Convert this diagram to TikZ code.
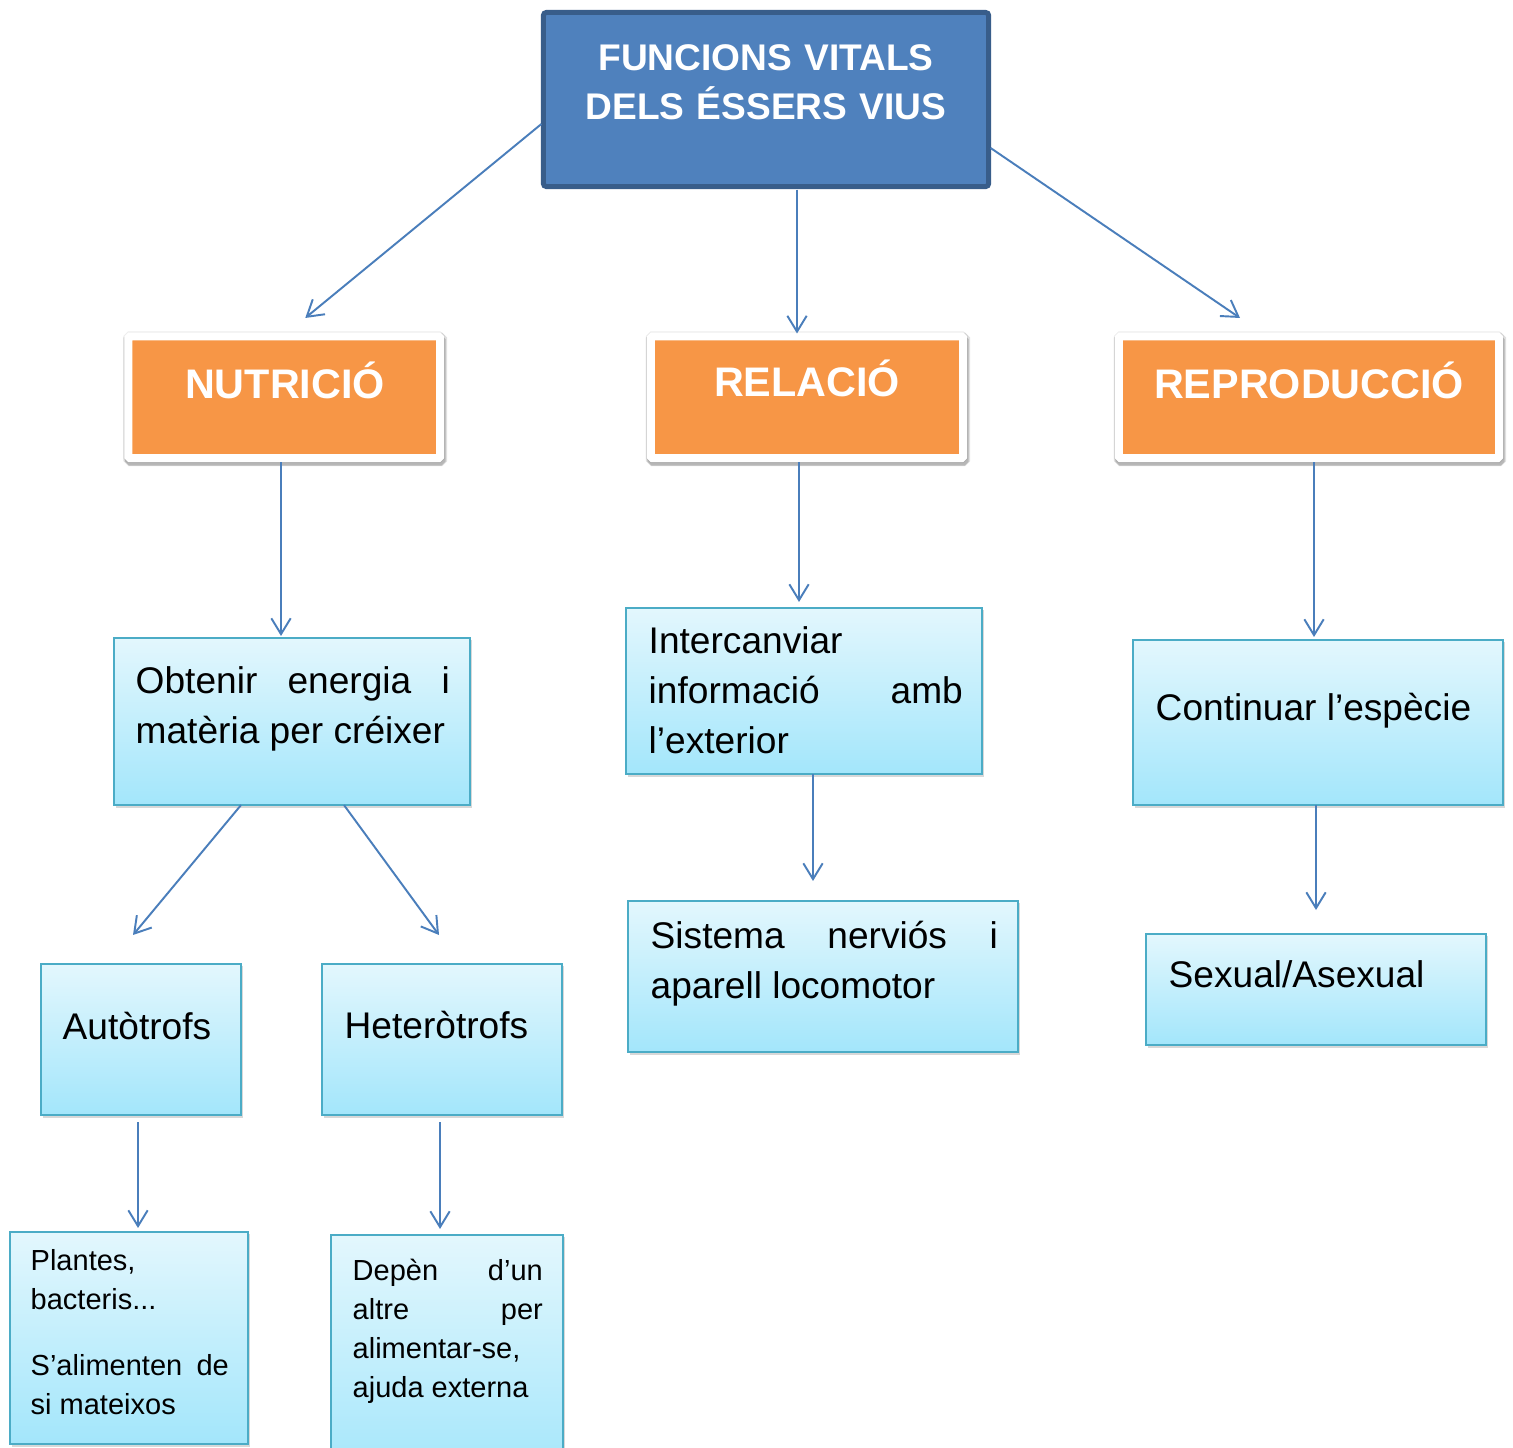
\documentclass[tikz,border=0pt]{standalone}
\usepackage{fontspec}
\setmainfont{Liberation Sans}
\usetikzlibrary{arrows.meta,calc,shadows}
\definecolor{titlefill}{HTML}{4F81BD}
\definecolor{titledraw}{HTML}{385D8A}
\definecolor{orangef}{HTML}{F79646}
\definecolor{arrowc}{HTML}{4A7EBB}
\definecolor{lbtop}{HTML}{E3F7FD}
\definecolor{lbbot}{HTML}{A3E6FB}
\definecolor{lbdraw}{HTML}{4BACC6}
\newcommand\jline[1]{\makebox[\hsize][s]{\spaceskip=0pt\xspaceskip=0pt\relax #1}}
\tikzset{
  titlebox/.style={draw=titledraw, line width=0.5mm, fill=titlefill, rounded corners=0.3mm, inner sep=0, outer sep=0},
  orangebox/.style={draw=white, line width=0.8mm, fill=orangef, inner sep=0, outer sep=0, rounded corners=0.15mm,
    preaction={draw=black, draw opacity=0.07, line width=1.0mm},
    preaction={draw=black, draw opacity=0.12, line width=1.2mm, transform canvas={xshift=0.3pt, yshift=-0.6pt}},
    preaction={draw=black, draw opacity=0.18, line width=0.9mm, transform canvas={xshift=0.3pt, yshift=-0.9pt}}},
  lightbox/.style={draw=lbdraw, line width=0.22mm, top color=lbtop, bottom color=lbbot, inner sep=0, outer sep=0,
    drop shadow={shadow xshift=0.5pt, shadow yshift=-0.7pt, opacity=0.3}},
  arr/.style={draw=arrowc, line width=0.55pt, -{Straight Barb[length=4.5pt,width=5.5pt]}},
  titletext/.style={anchor=base, inner sep=0, text=white, align=center, text width=4.4cm,
    font=\fontsize{10.55pt}{14.2pt}\selectfont\bfseries},
  headtext/.style={anchor=base, inner sep=0, text=white, font=\fontsize{11.75pt}{14.2pt}\selectfont\bfseries},
  bodytext/.style={anchor=base west, inner sep=0, align=justify, font=\fontsize{10.55pt}{14.23pt}\selectfont},
  smalltext/.style={anchor=base west, inner sep=0, align=justify, font=\fontsize{8.25pt}{11.1pt}\selectfont},
}
\begin{document}
\begin{tikzpicture}[x=0.01cm, y=-0.01cm]
\fill[white] (0,0) rectangle (1513,1447);
\useasboundingbox (0,0) rectangle (1513,1447);

% boxes
\node[titlebox, minimum width=4.45cm, minimum height=1.74cm] (top) at (766,99.5) {};
\node[orangebox, minimum width=3.115cm, minimum height=1.215cm] (nut) at (284.25,397.25) {};
\node[orangebox, minimum width=3.12cm, minimum height=1.215cm] (rel) at (807,397.25) {};
\node[orangebox, minimum width=3.80cm, minimum height=1.215cm] (rep) at (1309,397.25) {};
\node[lightbox, minimum width=3.56cm, minimum height=1.67cm] (obt) at (292,721.5) {};
\node[lightbox, minimum width=3.56cm, minimum height=1.66cm] (int) at (804,691) {};
\node[lightbox, minimum width=3.70cm, minimum height=1.65cm] (con) at (1318,722.5) {};
\node[lightbox, minimum width=2.00cm, minimum height=1.51cm] (aut) at (141,1039.5) {};
\node[lightbox, minimum width=2.40cm, minimum height=1.51cm] (het) at (442,1039.5) {};
\node[lightbox, minimum width=3.90cm, minimum height=1.51cm] (sis) at (823,976.5) {};
\node[lightbox, minimum width=3.40cm, minimum height=1.11cm] (sex) at (1316,989.5) {};
\node[lightbox, minimum width=2.38cm, minimum height=2.12cm] (pla) at (129,1338) {};
\node[lightbox, minimum width=2.32cm, minimum height=2.45cm] (dep) at (447,1357.5) {};

% texts
\node[titletext] (topT) at (766,70) {FUNCIONS VITALS\\DELS ÉSSERS VIUS};
\node[headtext] (nutT) at (285,398) {NUTRICIÓ};
\node[headtext] (relT) at (807,396) {RELACIÓ};
\node[headtext] (repT) at (1309,398) {REPRODUCCIÓ};
\node[bodytext, text width=3.14cm] (obtT) at (135,693)
  {\jline{Obtenir energia i}\\matèria per créixer};
\node[bodytext, text width=3.14cm] (intT) at (648,653)
  {Intercanviar\\\jline{informació amb}\\l’exterior};
\node[bodytext] (conT) at (1155,720) {Continuar l’espècie};
\node[bodytext, text width=3.47cm] (sisT) at (650,948)
  {\jline{Sistema nerviós i}\\aparell locomotor};
\node[bodytext] (sexT) at (1168,987) {Sexual/Asexual};
\node[bodytext] (autT) at (62,1039) {Autòtrofs};
\node[bodytext] (hetT) at (344,1038) {Heteròtrofs};
\node[smalltext, text width=1.98cm] (plaT) at (30,1270)
  {Plantes,\\bacteris...\\[7.7pt]\jline{S’alimenten de}\\si mateixos};
\node[smalltext, text width=1.90cm] (depT) at (352,1280)
  {\jline{Depèn d’un}\\\jline{altre per}\\alimentar-se,\\ajuda externa};

% connectors
\draw[arr] ($(top.west)+(-2,24.5)$) -- ($(nut.north)+(21,-18.5)$);
\draw[arr] ($(top.south)+(31,3)$) -- ($(rel.north)+(-10,-3)$);
\draw[arr] ($(top.east)+(2,48.5)$) -- ($(rep.north)+(-69,-18.5)$);
\draw[arr] ($(nut.south)+(-3.25,4)$) -- ($(obt.north)+(-11,-2)$);
\draw[arr] ($(rel.south)+(-8,4)$) -- ($(int.north)+(-5,-6)$);
\draw[arr] ($(rep.south)+(5,4)$) -- ($(con.north)+(-4,-3)$);
\draw[arr] ($(obt.south)+(-51,0)$) -- ($(aut.north)+(-8,-29)$);
\draw[arr] ($(obt.south)+(52,0)$) -- ($(het.north)+(-3,-29)$);
\draw[arr] ($(int.south)+(9,0)$) -- ($(sis.north)+(-10,-20)$);
\draw[arr] ($(con.south)+(-2,0)$) -- ($(sex.north)+(0,-24)$);
\draw[arr] ($(aut.south)+(-3,7)$) -- ($(pla.north)+(9,-4)$);
\draw[arr] ($(het.south)+(-2,7)$) -- ($(dep.north)+(-7,-6)$);
\end{tikzpicture}
\end{document}
